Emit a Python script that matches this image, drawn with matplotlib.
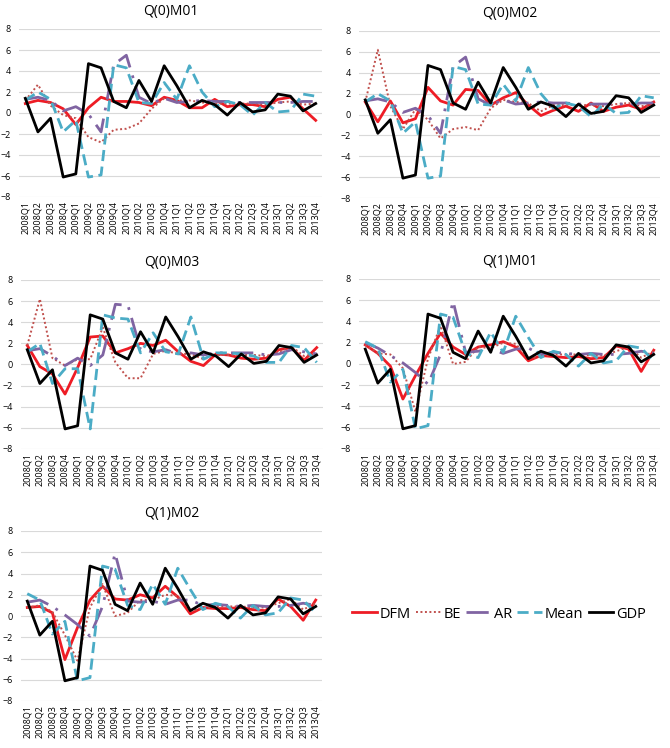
import matplotlib
matplotlib.use('Agg')
from matplotlib import pyplot as plt

quarters = [f"{y}Q{q}" for y in range(2008, 2014) for q in range(1, 5)]

gdp = [1.4, -1.8, -0.5, -6.1, -5.8, 4.7, 4.3, 1.1, 0.5, 3.1, 1.1, 4.5,
       2.6, 0.5, 1.2, 0.8, -0.2, 1.0, 0.1, 0.3, 1.8, 1.6, 0.2, 0.9]

# Q(0)M01
dfm_q0m01 = [0.9, 1.2, 1.0, 0.4, -1.1, 0.5, 1.5, 1.1, 1.1, 1.0, 0.7, 1.5,
             1.2, 0.5, 0.5, 1.3, 0.6, 0.8, 0.8, 0.6, 1.3, 1.5, 0.4, -0.7]
be_q0m01 = [1.2, 2.7, 0.7, -0.2, -0.5, -2.3, -2.8, -1.6, -1.5, -1.0, 0.4, 1.4,
            1.2, 1.2, 1.0, 0.9, 0.9, 0.9, 0.9, 0.8, 1.0, 1.1, 0.8, 0.9]
ar_q0m01 = [1.3, 1.5, 1.2, 0.2, 0.6, -0.1, -1.8, 4.6, 5.5, 1.5, 0.9, 1.4,
            1.0, 1.1, 1.2, 1.1, 1.1, 1.0, 1.0, 1.0, 1.0, 1.0, 1.1, 1.1]
mean_q0m01 = [1.2, 2.0, 1.3, -1.8, -0.7, -6.1, -5.9, 4.6, 4.3, 1.0, 0.9, 2.9,
              1.3, 4.5, 2.0, 0.6, 1.1, 0.8, -0.2, 1.0, 0.1, 0.2, 1.8, 1.6]

# Q(0)M02
dfm_q0m02 = [1.2, -0.7, 1.3, -0.8, -0.4, 2.6, 1.3, 0.9, 2.4, 2.3, 0.9, 1.6,
             2.1, 0.9, -0.1, 0.4, 0.8, 0.3, 1.1, 0.3, 0.7, 0.9, 0.5, 1.2]
be_q0m02 = [1.2, 6.2, 0.8, -1.4, 0.5, -0.5, -2.3, -1.4, -1.2, -1.5, 0.6, 1.4,
            1.2, 1.1, 0.3, 0.9, 0.9, 0.9, 0.9, 0.8, 1.0, 1.1, 0.8, 0.9]
ar_q0m02 = [1.3, 1.5, 1.2, 0.2, 0.6, -0.1, -1.8, 4.6, 5.5, 1.5, 0.9, 1.4,
            1.0, 1.1, 1.2, 1.1, 1.1, 1.0, 1.0, 1.0, 1.0, 1.0, 1.1, 1.1]
mean_q0m02 = [1.2, 2.0, 1.3, -1.8, -0.7, -6.1, -5.9, 4.6, 4.3, 1.0, 0.9, 2.9,
              1.3, 4.5, 2.0, 0.6, 1.1, 0.8, -0.2, 1.0, 0.1, 0.2, 1.8, 1.6]

# Q(0)M03
dfm_q0m03 = [1.8, -0.2, -0.9, -2.8, -0.3, 2.6, 2.7, 1.1, 1.5, 2.0, 1.8, 2.3,
             1.2, 0.3, -0.1, 1.0, 0.9, 0.6, 0.5, 0.6, 1.4, 1.6, 0.4, 1.6]
be_q0m03 = [1.8, 6.2, 0.6, -0.1, 0.5, 0.5, 3.5, 0.2, -1.3, -1.3, 1.0, 1.3,
            1.0, 1.0, 0.5, 0.9, 0.9, 0.9, 0.9, 0.8, 1.2, 1.7, 0.8, 1.0]
ar_q0m03 = [1.3, 1.5, 0.8, -0.1, 0.6, -0.1, 0.9, 5.7, 5.6, 1.4, 1.2, 1.4,
            1.0, 1.1, 0.9, 1.1, 1.1, 1.1, 1.1, 0.9, 1.0, 1.4, 1.2, 1.0]
mean_q0m03 = [1.2, 2.0, -1.8, -0.4, -0.4, -6.1, 4.7, 4.4, 4.3, 1.1, 3.0, 1.2,
              1.0, 4.5, 0.5, 1.1, 1.1, 1.0, 0.8, 0.2, 0.2, 1.8, 1.6, 0.2]

# Q(1)M01
dfm_q1m01 = [1.8, 1.0, -0.2, -3.3, -1.1, 1.0, 2.9, 1.6, 0.9, 1.6, 1.8, 2.1,
             1.6, 0.3, 0.8, 0.7, 0.6, 0.7, 0.5, 0.6, 1.7, 1.4, -0.7, 1.3]
be_q1m01 = [1.8, 1.0, 0.9, -0.4, -4.5, 0.5, 3.6, 0.0, 0.2, 1.6, 1.5, 2.0,
            1.9, 0.5, 0.7, 0.9, 0.9, 0.9, 0.8, 0.8, 1.2, 1.6, 0.6, 1.2]
ar_q1m01 = [2.0, 1.5, 0.8, 0.1, -0.8, -1.9, 0.9, 5.9, 1.1, 1.2, 1.4, 1.0,
            1.4, 1.5, 0.9, 1.1, 1.0, 0.9, 1.0, 0.9, 0.9, 1.0, 1.2, 1.0]
mean_q1m01 = [2.1, 1.5, -1.7, -0.5, -6.1, -5.8, 4.7, 4.4, 1.0, 0.6, 3.0, 1.1,
              4.5, 2.5, 0.6, 1.2, 0.9, -0.2, 1.0, 0.1, 0.3, 1.7, 1.5, 0.3]

# Q(1)M02
dfm_q1m02 = [0.8, 0.9, 0.3, -4.1, -1.1, 1.5, 2.8, 1.6, 1.5, 2.0, 1.7, 2.8,
             1.8, 0.2, 0.8, 0.7, 0.7, 0.8, 0.6, 0.5, 1.6, 0.9, -0.4, 1.5]
be_q1m02 = [0.8, 1.0, 0.4, -1.8, -4.2, 0.8, 3.0, 0.0, 0.3, 1.5, 1.5, 2.0,
            1.9, 0.5, 0.7, 0.9, 0.9, 0.9, 0.8, 0.8, 1.2, 1.6, 0.6, 1.2]
ar_q1m02 = [1.3, 1.5, 0.9, 0.1, -0.8, -1.9, 0.9, 5.9, 1.4, 1.3, 1.4, 1.1,
            1.5, 1.5, 1.0, 1.1, 1.0, 0.9, 1.0, 0.9, 0.9, 1.0, 1.2, 1.0]
mean_q1m02 = [2.1, 1.5, -1.7, -0.5, -6.1, -5.8, 4.7, 4.4, 1.0, 0.6, 3.0, 1.1,
              4.5, 2.5, 0.6, 1.2, 0.9, -0.2, 1.0, 0.1, 0.3, 1.7, 1.5, 0.3]

panel_titles = ["Q(0)M01", "Q(0)M02", "Q(0)M03", "Q(1)M01", "Q(1)M02"]
panel_data = [
    (dfm_q0m01, be_q0m01, ar_q0m01, mean_q0m01),
    (dfm_q0m02, be_q0m02, ar_q0m02, mean_q0m02),
    (dfm_q0m03, be_q0m03, ar_q0m03, mean_q0m03),
    (dfm_q1m01, be_q1m01, ar_q1m01, mean_q1m01),
    (dfm_q1m02, be_q1m02, ar_q1m02, mean_q1m02),
]

plt.rcParams['font.family'] = ['Open Sans', 'DejaVu Sans']

W, H = 670, 748
fig = plt.figure(figsize=(W / 100, H / 100), dpi=100)

# plot-area boxes in pixels: (left, top, right, bottom)
boxes = [(19, 29, 322, 197), (359, 31, 660, 198),
         (21, 280, 323, 449), (359, 279, 660, 449),
         (21, 531, 322, 701)]

x = list(range(len(quarters)))
for (l, t, r, b), title, (dfm, be, ar, mean) in zip(boxes, panel_titles, panel_data):
    ax = fig.add_axes([l / W, 1 - b / H, (r - l) / W, (b - t) / H])
    ax.plot(x, dfm, color='#ee1c25', lw=2.0, label='DFM')
    ax.plot(x, be, color='#c0504d', lw=1.4, ls=(0, (1, 1.3)), label='BE')
    ax.plot(x, ar, color='#8064a2', lw=2.0, ls=(0, (8, 3, 1, 3)), label='AR')
    ax.plot(x, mean, color='#4bacc6', lw=2.0, ls=(0, (4, 2)), label='Mean')
    ax.plot(x, gdp, color='black', lw=2.0, label='GDP')
    ax.set_xlim(-0.5, len(quarters) - 0.5)
    ax.set_ylim(-8, 8)
    ax.set_yticks(range(-8, 9, 2))
    ax.set_xticks(x)
    ax.set_xticklabels(quarters, rotation=90, fontsize=6.5)
    ax.tick_params(axis='y', labelsize=6.5, length=0, pad=6)
    ax.tick_params(axis='x', length=0, pad=3)
    ax.grid(axis='y', color='#d9d9d9', lw=0.8)
    ax.set_axisbelow(True)
    for s in ax.spines.values():
        s.set_visible(False)
    ax.set_title(title, fontsize=10, pad=10)
    last_ax = ax

handles, labels = last_ax.get_legend_handles_labels()
fig.legend(handles, labels, loc='center', bbox_to_anchor=(499 / W, 1 - 614 / H),
           ncol=5, frameon=False, fontsize=10.5, handlelength=1.7,
           handletextpad=0.2, columnspacing=0.35, borderpad=0)

fig.savefig('out.png', dpi=100)
